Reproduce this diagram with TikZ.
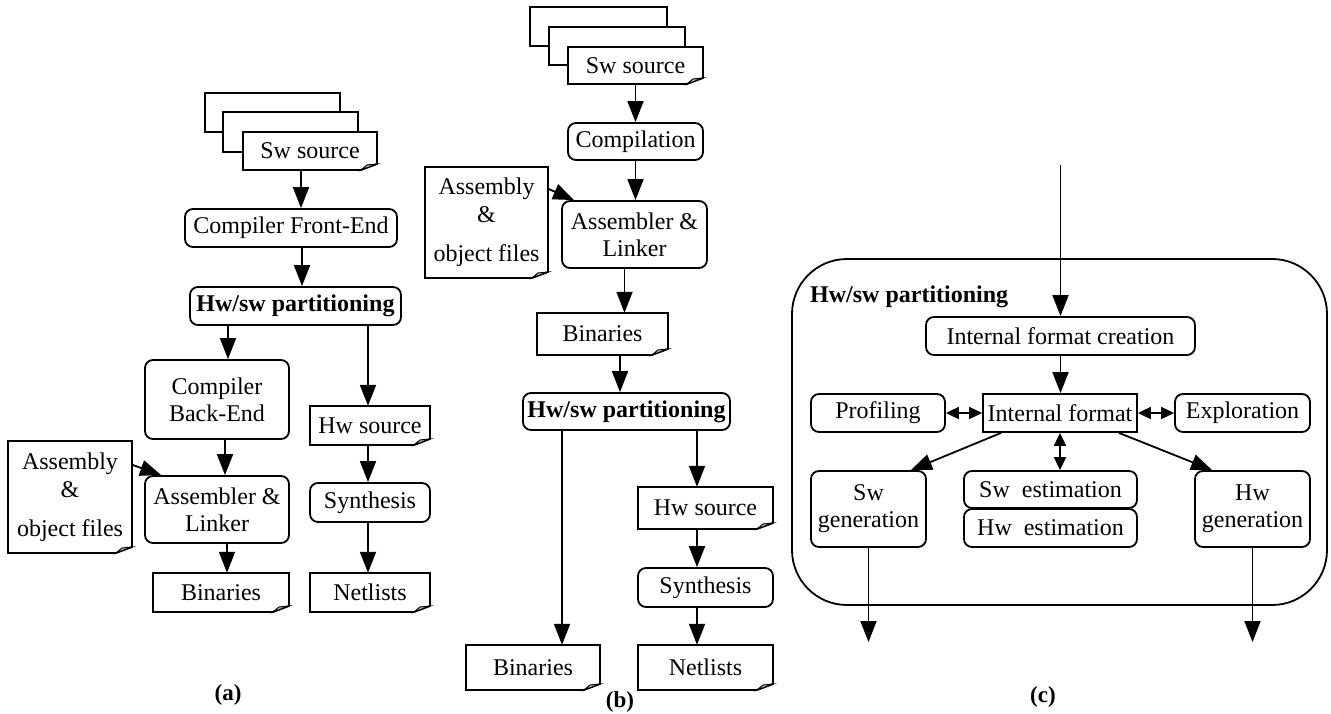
\documentclass[tikz,border=0pt]{standalone}
\usepackage{fontspec}
\setmainfont{Liberation Serif}
\usetikzlibrary{arrows.meta}
\tikzset{
 every node/.style={font=\fontsize{24}{27}\selectfont, inner sep=0pt, align=center},
 rbox/.style={draw, rounded corners=8pt, line width=1.8pt, fill=white},
 sbox/.style={draw, line width=1.8pt, fill=white},
 arr/.style={line width=1.8pt, -{Triangle[length=21pt,width=16pt]}},
 darr/.style={line width=1.8pt, {Triangle[length=13pt,width=12pt]}-{Triangle[length=13pt,width=12pt]}},
 docline/.style={line width=1.8pt, fill=white, line join=miter},
 fold/.style={line width=1pt, fill=gray!50},
 lbl/.style={font=\fontsize{23}{27}\selectfont\bfseries},
}
\newcommand\mkbox[7]{\node[#1, minimum width={#5-#3}, minimum height={#6-#4}] (#2) at ({(#3+#5)/2},{(#4+#6)/2}) {#7};}
\newcommand\mkdoc[6]{%
 \filldraw[docline] (#2,#3) -- (#4,#3) -- (#4,#5-6) -- (#4-16,#5) -- (#2,#5) -- cycle;
 \filldraw[fold] (#4-16,#5) -- (#4-10,#5-5) -- (#4,#5-6) -- cycle;
 \node[minimum width={#4-#2}, minimum height={#5-#3}] (#1) at ({(#2+#4)/2},{(#3+#5)/2}) {#6};}
\begin{document}
\begin{tikzpicture}[x=1pt,y=-1pt]
\useasboundingbox (0,0) rectangle (1331,714);
% ---------------- (a)
\mkbox{sbox}{a_sh1}{205}{93}{340}{132}{}
\mkbox{sbox}{a_sh2}{223}{112}{358}{152}{}
\mkdoc{a_src}{243}{132}{377}{170}{Sw source}
\mkbox{rbox}{a_cfe}{185}{209}{397}{247}{Compiler Front-End}
\mkbox{rbox}{a_part}{190}{287}{401}{325}{\textbf{Hw/sw partitioning}}
\mkbox{rbox}{a_cbe}{145}{360}{289}{439}{Compiler\\Back-End}
\mkbox{rbox}{a_asm}{145}{476}{289}{543}{Assembler \&\\Linker}
\mkdoc{a_adoc}{8}{441}{132}{553}{Assembly\\[1pt]\&\\[12pt]object files}
\mkdoc{a_bin}{153}{573}{289}{612}{Binaries}
\mkdoc{a_hws}{310}{406}{430}{445}{Hw source}
\mkbox{rbox}{a_syn}{310}{483}{430}{522}{Synthesis}
\mkdoc{a_net}{310}{573}{430}{612}{Netlists}
\draw[arr] ([xshift=-9pt]a_src.south) -- ([xshift=-9pt]a_src.south |- a_cfe.north);
\draw[arr] ([xshift=11pt]a_cfe.south) -- ([xshift=11pt]a_cfe.south |- a_part.north);
\draw[arr] ([xshift=-67.5pt]a_part.south) -- ([xshift=-67.5pt]a_part.south |- a_cbe.north);
\draw[arr] ([xshift=72.5pt]a_part.south) -- ([xshift=72.5pt]a_part.south |- a_hws.north);
\draw[arr] ([xshift=8pt]a_cbe.south) -- ([xshift=8pt]a_cbe.south |- a_asm.north);
\draw[arr] ([xshift=10pt]a_asm.south) -- ([xshift=10pt]a_asm.south |- a_bin.north);
\draw[arr] ([xshift=-2pt]a_hws.south) -- ([xshift=-2pt]a_hws.south |- a_syn.north);
\draw[arr] ([xshift=-2pt]a_syn.south) -- ([xshift=-2pt]a_syn.south |- a_net.north);
\draw[arr] ([yshift=-24pt]a_adoc.north east) -- ([xshift=17pt]a_asm.north west);
\node[lbl] (la) at (228,695) {(a)};
% ---------------- (b)
\mkbox{sbox}{b_sh1}{530}{7}{667}{46}{}
\mkbox{sbox}{b_sh2}{549}{27}{685}{65}{}
\mkdoc{b_src}{568}{47}{703}{84}{Sw source}
\mkbox{rbox}{b_comp}{568}{123}{703}{160}{Compilation}
\mkbox{rbox}{b_asm}{562}{201}{707}{268}{Assembler \&\\Linker}
\mkdoc{b_adoc}{425}{167}{548}{278}{Assembly\\[1pt]\&\\[12pt]object files}
\mkdoc{b_bin}{537}{313}{668}{355}{Binaries}
\mkbox{rbox}{b_part}{523}{393}{730}{430}{\textbf{Hw/sw partitioning}}
\mkdoc{b_bin2}{466}{645}{600}{690}{Binaries}
\mkdoc{b_hws}{638}{487}{773}{529}{Hw source}
\mkbox{rbox}{b_syn}{638}{568}{773}{607}{Synthesis}
\mkdoc{b_net}{638}{645}{773}{690}{Netlists}
\draw[arr] (b_src.south) -- (b_src.south |- b_comp.north);
\draw[arr] (b_comp.south) -- (b_comp.south |- b_asm.north);
\draw[arr] ([xshift=-10pt]b_asm.south) -- ([xshift=-10pt]b_asm.south |- b_bin.north);
\draw[arr] ([xshift=17.5pt]b_bin.south) -- ([xshift=17.5pt]b_bin.south |- b_part.north);
\draw[arr] ([xshift=-64.5pt]b_part.south) -- ([xshift=-64.5pt]b_part.south |- b_bin2.north);
\draw[arr] ([xshift=70.5pt]b_part.south) -- ([xshift=70.5pt]b_part.south |- b_hws.north);
\draw[arr] ([xshift=-8.5pt]b_hws.south) -- ([xshift=-8.5pt]b_hws.south |- b_syn.north);
\draw[arr] ([xshift=-8.5pt]b_syn.south) -- ([xshift=-8.5pt]b_syn.south |- b_net.north);
\draw[arr] ([yshift=-22pt]b_adoc.north east) -- ([xshift=13pt]b_asm.north west);
\node[lbl] (lb) at (620,702) {(b)};
% ---------------- (c)
\node[draw, line width=1.8pt, rounded corners=55pt, minimum width=535, minimum height=346] (c_out) at (1059.5,432) {};
\node[anchor=base west] (c_title) at (810,302) {\textbf{Hw/sw partitioning}};
\coordinate (c_in) at (1060.5,165);
\mkbox{rbox}{c_ifc}{926}{317}{1195}{355}{Internal format creation}
\mkbox{sbox}{c_if}{983}{394}{1137}{432}{Internal format}
\mkbox{rbox}{c_prof}{811}{394}{945}{432}{Profiling}
\mkbox{rbox}{c_expl}{1175}{394}{1310}{432}{Exploration}
\mkbox{rbox}{c_swe}{964}{471}{1137}{508}{Sw~~estimation}
\mkbox{rbox}{c_hwe}{964}{509}{1137}{547}{Hw~~estimation}
\mkbox{rbox}{c_swg}{811}{471}{926}{547}{Sw\\generation}
\mkbox{rbox}{c_hwg}{1195}{471}{1310}{547}{Hw\\generation}
\coordinate (c_swo) at (868.5,642);
\coordinate (c_hwo) at (1252.5,642);
\draw[arr] (c_in) -- (c_ifc.north);
\draw[arr] (c_ifc.south) -- (c_ifc.south |- c_if.north);
\draw[darr] (c_prof) -- (c_if);
\draw[darr] (c_if) -- (c_expl);
\draw[darr] (c_if.south) -- (c_if.south |- c_swe.north);
\draw[arr] ([xshift=19pt]c_if.south west) -- ([xshift=-16pt]c_swg.north east);
\draw[arr] ([xshift=-19pt]c_if.south east) -- ([xshift=18pt]c_hwg.north west);
\draw[arr] (c_swg.south) -- (c_swo);
\draw[arr] (c_hwg.south) -- (c_hwo);
\node[lbl] (lc) at (1043,697) {(c)};
\end{tikzpicture}
\end{document}
